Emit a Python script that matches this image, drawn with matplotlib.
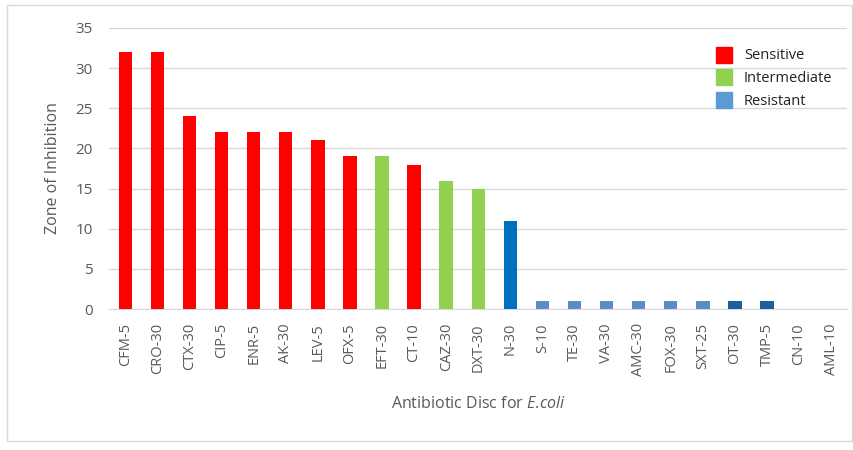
import matplotlib
matplotlib.use('Agg')
import matplotlib.pyplot as plt
from matplotlib.patches import Patch, Rectangle

discs = ['CFM-5', 'CRO-30', 'CTX-30', 'CIP-5', 'ENR-5', 'AK-30', 'LEV-5', 'OFX-5',
         'EFT-30', 'CT-10', 'CAZ-30', 'DXT-30', 'N-30', 'S-10', 'TE-30', 'VA-30',
         'AMC-30', 'FOX-30', 'SXT-25', 'OT-30', 'TMP-5', 'CN-10', 'AML-10']
zones = [32, 32, 24, 22, 22, 22, 21, 19, 19, 18, 16, 15, 11, 1, 1, 1, 1, 1, 1, 1, 1, 0, 0]
colors = ['#ff0000'] * 8 + ['#92d050', '#ff0000', '#92d050', '#92d050', '#0070c0'] \
    + ['#5b8dc4'] * 6 + ['#1a5fa0', '#1a5fa0', '#5b8dc4', '#5b8dc4']

legend_names = ['Sensitive', 'Intermediate', 'Resistant']
legend_colors = ['#ff0000', '#92d050', '#5b9bd5']

txt = '#595959'
plt.rcParams['font.family'] = ['Open Sans', 'DejaVu Sans']
plt.rcParams['mathtext.fontset'] = 'custom'
plt.rcParams['mathtext.rm'] = 'Open Sans'
plt.rcParams['mathtext.it'] = 'Open Sans:italic'

fig = plt.figure(figsize=(8.54, 4.5), dpi=100)
fig.patches.append(Rectangle((0.008, 0.02), 0.99, 0.968, transform=fig.transFigure,
                             fill=False, edgecolor='#d9d9d9', lw=1))
ax = fig.add_axes([0.128, 0.313, 0.864, 0.625])

x = range(len(discs))
ax.bar(x, zones, width=0.42, color=colors, zorder=3)
ax.set_xlim(-0.5, len(discs) - 0.5)
ax.set_ylim(0, 35)
ax.set_yticks(range(0, 36, 5))
ax.set_xticks(list(x))
ax.set_xticklabels(discs, rotation=90, fontsize=10.5, color=txt)
ax.tick_params(axis='y', labelsize=11, colors=txt, length=0, pad=12)
ax.tick_params(axis='x', length=0, pad=10)
ax.grid(axis='y', color='#d9d9d9', lw=1, zorder=0)
for s in ['top', 'right', 'left']:
    ax.spines[s].set_visible(False)
ax.spines['bottom'].set_color('#d9d9d9')

ax.set_ylabel('Zone of Inhibition', fontsize=11.5, color=txt, labelpad=10)
ax.set_xlabel('Antibiotic Disc for $\\mathit{E{.}\\!coli}$', fontsize=11.5, color=txt, labelpad=14)

handles = [Patch(color=c, label=n) for n, c in zip(legend_names, legend_colors)]
ax.legend(handles=handles, loc='upper right', bbox_to_anchor=(0.998, 0.98), frameon=False,
          fontsize=10.5, labelcolor='#222222', handlelength=1.1, handleheight=1.3,
          handletextpad=0.8, labelspacing=0.4)

fig.savefig('out.png', dpi=100)
